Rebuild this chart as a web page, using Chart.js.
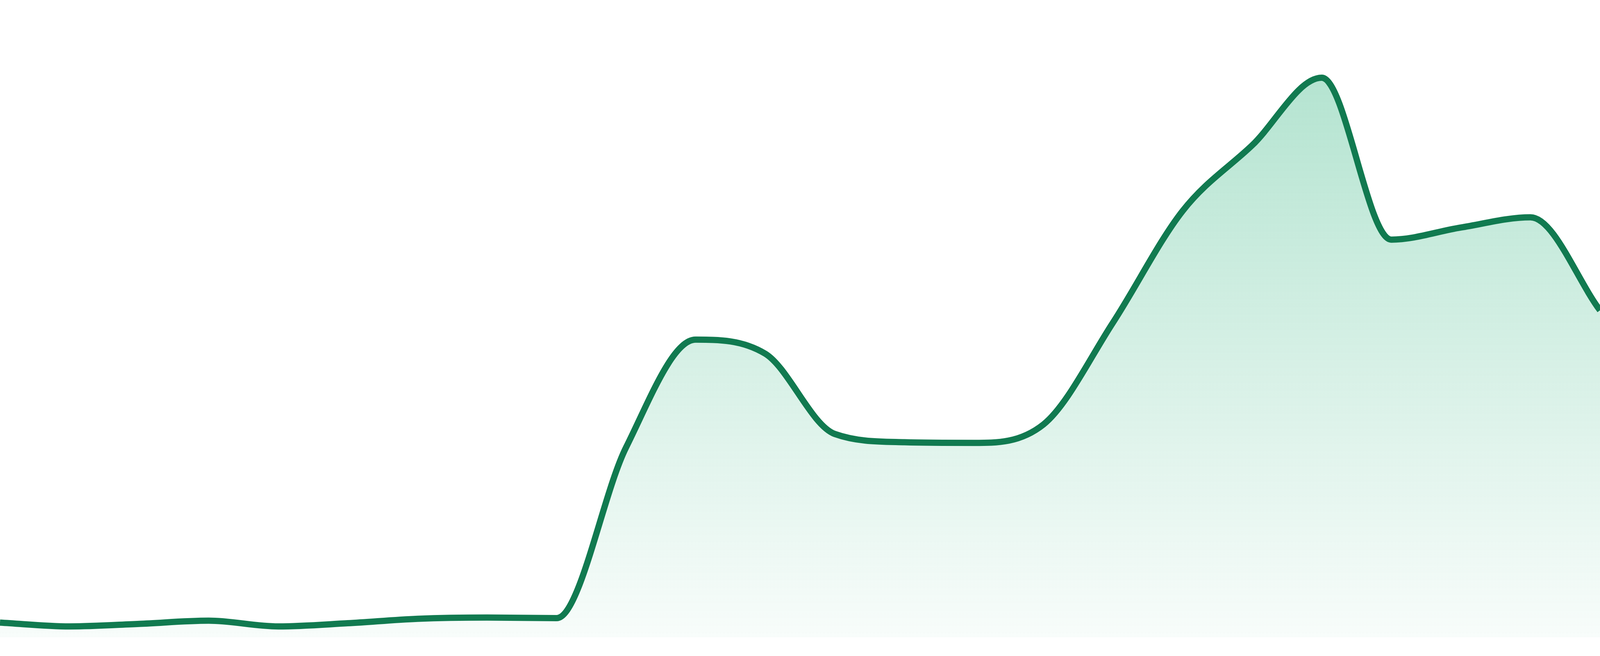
<!DOCTYPE html>
<html>
<head>
<meta charset="utf-8">
<script src="https://cdn.jsdelivr.net/npm/chart.js@4"></script>
<style>
	html, body { margin: 0; padding: 0; background: #ffffff; overflow: hidden; }
	#wrap { width: 100vw; height: 100vh; position: relative; }
</style>
</head>
<body>
<div id="wrap"><canvas id="trend"></canvas></div>
<script>
// one value per step (0 = baseline, 100 = top of plot)
const steps = ['1', '2', '3', '4', '5', '6', '7', '8', '9', '10', '11', '12',
	'13', '14', '15', '16', '17', '18', '19', '20', '21', '22', '23', '24'];
const values = [2.3, 1.7, 2.1, 2.6, 1.7, 2.2, 2.9, 3.1, 3.0, 29.8, 46.7, 44.5,
	31.9, 30.6, 30.5, 33.4, 49.4, 66.9, 77.2, 87.8, 62.4, 64.3, 65.9, 51.3];

const lineColor = '#117a50';

function areaFill(context) {
	const chart = context.chart;
	const area = chart.chartArea;
	if (!area) {
		return 'rgba(22, 170, 110, 0.2)';
	}
	const grad = chart.ctx.createLinearGradient(0, area.top, 0, area.bottom);
	grad.addColorStop(0, 'rgba(22, 170, 110, 0.36)');
	grad.addColorStop(1, 'rgba(22, 170, 110, 0.03)');
	return grad;
}

const trendConfig = {
	type: 'line',
	data: {
		labels: steps,
		datasets: [{
			label: '',
			data: values,
			fill: 'origin',
			borderColor: lineColor,
			backgroundColor: areaFill,
			borderWidth: 16,
			pointRadius: 0,
			cubicInterpolationMode: 'monotone',
		}
	]},
	options : {
		layout: {
			padding: { top: 0, left: 0, right: 0, bottom: 48 },
		},
		scales: {
			y: {
				display: false,
				min: 0,
				max: 100,
			},
			x: {
				display: false,
				offset: false,
			}
		},
		plugins: {
			legend: { display: false },
			tooltip: { enabled: false },
		},
		responsive: true,
		maintainAspectRatio: false,
		animation: false,
	},
};

const trendCtx = document.getElementById('trend');
const trendPlot = new Chart(trendCtx, trendConfig);
</script>
</body>
</html>
